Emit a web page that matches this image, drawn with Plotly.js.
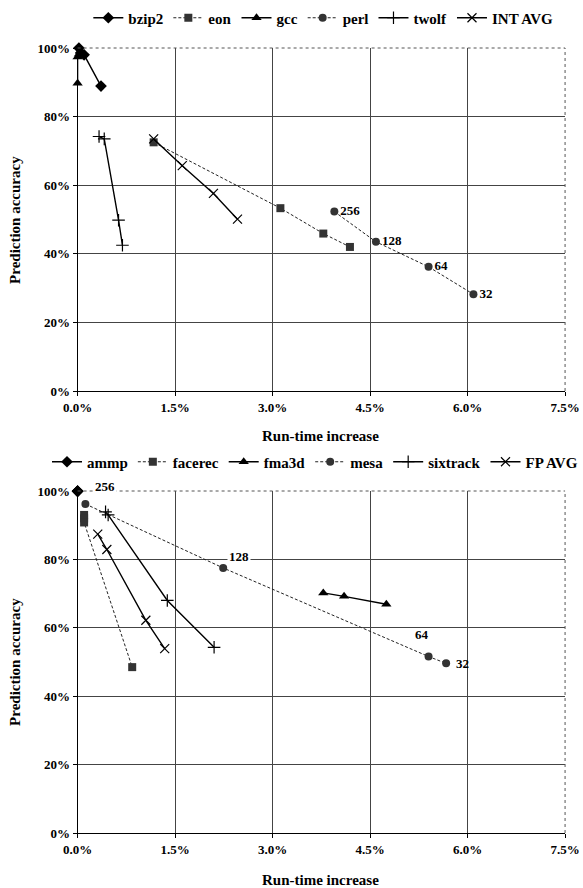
<!DOCTYPE html>
<html><head><meta charset="utf-8">
<script src="https://cdn.plot.ly/plotly-3.0.1.min.js"></script>
<style>html,body{margin:0;padding:0;background:#fff}</style>
</head><body><div id="chart" style="width:583px;height:888px"></div>
<script>
// ---------- data (run-time increase %, prediction accuracy %) ----------
const cacheLabels = ['256', '128', '64', '32'];

// INT benchmarks (top chart)
const bzip2X = [0.02, 0.05, 0.10, 0.36];
const bzip2Y = [100.0, 98.6, 98.0, 88.9];
const eonX = [1.17, 3.12, 3.78, 4.19];
const eonY = [72.5, 53.3, 45.9, 42.0];
const gccX = [0.00, 0.00, 0.02, 0.04];
const gccY = [89.7, 97.4, 98.2, 99.0];
const perlX = [3.95, 4.59, 5.40, 6.09];
const perlY = [52.3, 43.5, 36.2, 28.2];
const twolfX = [0.33, 0.41, 0.63, 0.69];
const twolfY = [74.2, 73.5, 49.8, 42.5];
const intAvgX = [1.17, 1.61, 2.09, 2.46];
const intAvgY = [73.5, 65.7, 57.6, 50.1];

// FP benchmarks (bottom chart)
const ammpX = [0.00, 0.00, 0.00, 0.00];
const ammpY = [100.0, 100.0, 99.9, 99.9];
const facerecX = [0.10, 0.10, 0.10, 0.84];
const facerecY = [93.0, 92.0, 90.8, 48.5];
const fma3dX = [3.78, 4.10, 4.75];
const fma3dY = [70.2, 69.2, 66.9];
const mesaX = [0.12, 2.24, 5.40, 5.67];
const mesaY = [96.2, 77.5, 51.6, 49.6];
const sixtrackX = [0.43, 0.47, 1.38, 2.10];
const sixtrackY = [93.9, 93.0, 68.0, 54.3];
const fpAvgX = [0.31, 0.45, 1.05, 1.34];
const fpAvgY = [87.4, 82.9, 62.2, 53.9];

const xTicks = [0, 1.5, 3.0, 4.5, 6.0, 7.5];
const xTickText = ['0.0%', '1.5%', '3.0%', '4.5%', '6.0%', '7.5%'];
const yTicks = [0, 20, 40, 60, 80, 100];
const yTickText = ['0%', '20%', '40%', '60%', '80%', '100%'];

// ---------- styling ----------
const FONT = 'Liberation Serif, Times New Roman, serif';
const solid = {color: '#000', width: 1.4};
const dashed = {color: '#222', width: 1, dash: '3px,2px'};

function tr(name, x, y, sym, line, xa, ya, leg, extra) {
  const t = {
    type: 'scatter', mode: 'lines+markers', name: name, x: x, y: y,
    xaxis: xa, yaxis: ya, legend: leg, line: line,
    marker: {symbol: sym.s, size: sym.size, color: sym.c,
             line: {color: sym.lc || sym.c, width: sym.lw || 0}},
    cliponaxis: false
  };
  return Object.assign(t, extra || {});
}
const DIA = {s: 'diamond', size: 9, c: '#000'};
const SQ = {s: 'square', size: 8, c: '#333'};
const TRI = {s: 'triangle-up', size: 9, c: '#000'};
const CIR = {s: 'circle', size: 8, c: '#333'};
const CRS = {s: 'cross-thin-open', size: 9, c: '#000', lw: 1.2};
const XX = {s: 'x-thin-open', size: 9, c: '#000', lw: 1.2};

const labelText = {mode: 'lines+markers+text', text: cacheLabels.map(t => '<b>' + t + '</b>'),
  textposition: 'middle right', textfont: {family: FONT, size: 13, color: '#000'}};

const data = [
  tr('bzip2', bzip2X, bzip2Y, DIA, solid, 'x', 'y', 'legend'),
  tr('eon', eonX, eonY, SQ, dashed, 'x', 'y', 'legend'),
  tr('gcc', gccX, gccY, TRI, solid, 'x', 'y', 'legend'),
  tr('perl', perlX, perlY, CIR, dashed, 'x', 'y', 'legend', labelText),
  tr('twolf', twolfX, twolfY, CRS, solid, 'x', 'y', 'legend'),
  tr('INT AVG', intAvgX, intAvgY, XX, solid, 'x', 'y', 'legend'),
  tr('ammp', ammpX, ammpY, DIA, solid, 'x2', 'y2', 'legend2'),
  tr('facerec', facerecX, facerecY, SQ, dashed, 'x2', 'y2', 'legend2'),
  tr('fma3d', fma3dX, fma3dY, TRI, solid, 'x2', 'y2', 'legend2'),
  tr('mesa', mesaX, mesaY, CIR, dashed, 'x2', 'y2', 'legend2'),
  tr('sixtrack', sixtrackX, sixtrackY, CRS, solid, 'x2', 'y2', 'legend2'),
  tr('FP AVG', fpAvgX, fpAvgY, XX, solid, 'x2', 'y2', 'legend2')
];

// mesa labels placed with offsets from their points
const mesaShift = [[20, 17], [16, 11], [-7, 22], [16, 0]];
const annotations = cacheLabels.map((t, i) => ({
  x: mesaX[i], y: mesaY[i], xref: 'x2', yref: 'y2', text: '<b>' + t + '</b>', showarrow: false,
  xshift: mesaShift[i][0], yshift: mesaShift[i][1],
  font: {family: FONT, size: 13, color: '#000'}, bgcolor: i < 2 ? '#fff' : 'rgba(0,0,0,0)'
}));

const titleFont = {family: FONT, size: 15, color: '#000'};
function axTitle(text, x, y, rot) {
  return {text: '<b>' + text + '</b>', xref: 'paper', yref: 'paper', x: x, y: y, showarrow: false,
    textangle: rot, font: titleFont, xanchor: 'center', yanchor: 'middle'};
}
annotations.push(axTitle('Prediction accuracy', 15 / 583, 1 - 220 / 888, -90));
annotations.push(axTitle('Run-time increase', 322 / 583, 1 - 436 / 888, 0));
annotations.push(axTitle('Prediction accuracy', 15 / 583, 1 - 662 / 888, -90));
annotations.push(axTitle('Run-time increase', 322 / 583, 1 - 880 / 888, 0));

const tickFont = {family: FONT, size: 13, color: '#000'};
const bold = a => a.map(t => '<b>' + t + '</b>');
function xAxis(anchor) {
  return {domain: [78 / 583, 568 / 583], range: [0, 7.5], anchor: anchor,
    tickmode: 'array', tickvals: xTicks, ticktext: bold(xTickText), tickfont: tickFont,
    showgrid: true, gridcolor: '#444', gridwidth: 1, zeroline: false,
    showline: true, linecolor: '#000', linewidth: 1, ticks: 'outside', ticklen: 4,
    tickcolor: '#000', fixedrange: true};
}
function yAxis(anchor, top, bottom) {
  return {domain: [1 - bottom / 888, 1 - top / 888], range: [0, 100], anchor: anchor,
    tickmode: 'array', tickvals: yTicks, ticktext: bold(yTickText), tickfont: tickFont,
    showgrid: true, gridcolor: '#444', gridwidth: 1, zeroline: false,
    showline: true, linecolor: '#000', linewidth: 1, ticks: 'outside', ticklen: 4,
    tickcolor: '#000', fixedrange: true};
}

function border(xr, yr) {
  return [
    {type: 'line', xref: xr + ' domain', yref: yr + ' domain', x0: 0, x1: 1, y0: 1, y1: 1,
     line: {color: '#555', width: 1, dash: 'dot'}},
    {type: 'line', xref: xr + ' domain', yref: yr + ' domain', x0: 1, x1: 1, y0: 0, y1: 1,
     line: {color: '#555', width: 1, dash: 'dot'}}
  ];
}

const legendBase = {orientation: 'h', xanchor: 'center', yanchor: 'middle',
  font: {family: FONT, size: 15, color: '#000', weight: 'bold'},
  itemwidth: 30, bgcolor: 'rgba(0,0,0,0)', tracegroupgap: 0};

const layout = {
  width: 583, height: 888, margin: {l: 0, r: 0, t: 0, b: 0},
  paper_bgcolor: '#fff', plot_bgcolor: '#fff', showlegend: true,
  font: {family: FONT, color: '#000'},
  xaxis: xAxis('y'), yaxis: yAxis('x', 48, 391),
  xaxis2: xAxis('y2'), yaxis2: yAxis('x2', 491, 833),
  legend: Object.assign({x: 325 / 583, y: 1 - 18 / 888}, legendBase),
  legend2: Object.assign({x: 325 / 583, y: 1 - 462 / 888}, legendBase),
  annotations: annotations,
  shapes: border('x', 'y').concat(border('x2', 'y2'))
};

Plotly.newPlot('chart', data, layout, {displayModeBar: false, staticPlot: true});
</script></body></html>
